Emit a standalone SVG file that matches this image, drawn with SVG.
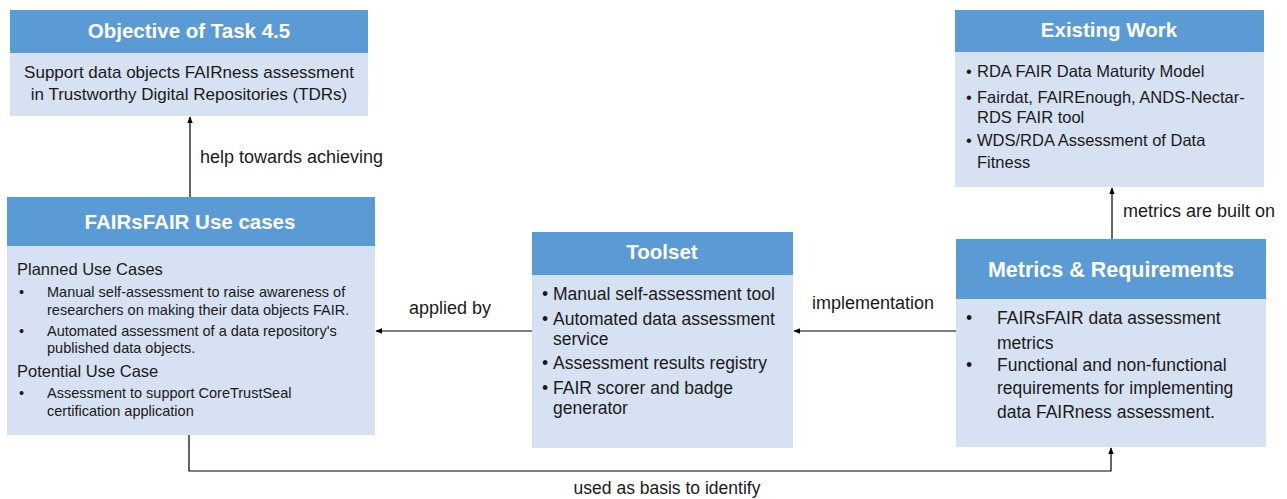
<svg xmlns="http://www.w3.org/2000/svg" width="1287" height="499" viewBox="0 0 1287 499">
<style>
.hd{fill:#5B9BD5}
.bd{fill:#D6E1F1}
text{font-family:"Liberation Sans",Arial,sans-serif;fill:#1a1a1a}
.ht{font-weight:bold;font-size:20.5px;fill:#fff;text-anchor:middle}
.t{font-size:16.5px}
.o{font-size:17px}
.m{font-size:17.5px}
.s{font-size:14.5px}
.h2{font-size:16.5px}
.l{font-size:18px}
.c{fill:none;stroke:#000;stroke-width:1.2}
</style>
<defs>
<marker id="ah" viewBox="0 0 10 10" refX="9" refY="5" markerWidth="7" markerHeight="7" orient="auto" markerUnits="userSpaceOnUse">
<path d="M0,1 L10,5 L0,9 z" fill="#000"/>
</marker>
</defs>
<rect width="1287" height="499" fill="#fff"/>
<g id="objective">
<rect class="hd" x="10" y="10" width="358" height="43"/>
<rect class="bd" x="10" y="53" width="358" height="63"/>
<text class="ht" x="189" y="38">Objective of Task 4.5</text>
<text class="o" x="189" y="78" text-anchor="middle">Support data objects FAIRness assessment</text>
<text class="o" x="189" y="100" text-anchor="middle">in Trustworthy Digital Repositories (TDRs)</text>
</g>
<g id="usecases">
<rect class="hd" x="7" y="197" width="368" height="49"/>
<rect class="bd" x="7" y="246" width="368" height="189"/>
<text class="ht" x="190" y="229">FAIRsFAIR Use cases</text>
<text class="h2" x="17" y="275">Planned Use Cases</text>
<text class="s" x="19" y="297">•</text><text class="s" x="47" y="297">Manual self-assessment to raise awareness of</text>
<text class="s" x="47" y="315">researchers on making their data objects FAIR.</text>
<text class="s" x="19" y="336">•</text><text class="s" x="47" y="336">Automated  assessment of a data repository's</text>
<text class="s" x="47" y="353">published data objects.</text>
<text class="h2" x="17" y="377">Potential Use Case</text>
<text class="s" x="19" y="398">•</text><text class="s" x="47" y="398">Assessment to support  CoreTrustSeal</text>
<text class="s" x="47" y="416">certification application</text>
</g>
<g id="toolset">
<rect class="hd" x="532" y="232" width="261" height="43"/>
<rect class="bd" x="532" y="275" width="261" height="173"/>
<text class="ht" x="662" y="259">Toolset</text>
<text class="m" x="542" y="300">•</text><text class="m" x="553" y="300">Manual self-assessment tool</text>
<text class="m" x="542" y="325">•</text><text class="m" x="553" y="325">Automated data assessment</text>
<text class="m" x="553" y="345">service</text>
<text class="m" x="542" y="369">•</text><text class="m" x="553" y="369">Assessment results registry</text>
<text class="m" x="542" y="394">•</text><text class="m" x="553" y="394">FAIR scorer and badge</text>
<text class="m" x="553" y="414">generator</text>
</g>
<g id="existing">
<rect class="hd" x="955" y="10" width="309" height="42"/>
<rect class="bd" x="955" y="52" width="309" height="135"/>
<text class="ht" x="1109" y="37">Existing Work</text>
<text class="t" x="966" y="77">•</text><text class="t" x="977" y="77">RDA FAIR Data Maturity Model</text>
<text class="t" x="966" y="103">•</text><text class="t" x="977" y="103">Fairdat, FAIREnough, ANDS-Nectar-</text>
<text class="t" x="977" y="123">RDS FAIR tool</text>
<text class="t" x="966" y="146">•</text><text class="t" x="977" y="146">WDS/RDA Assessment of Data</text>
<text class="t" x="977" y="168">Fitness</text>
</g>
<g id="metrics">
<rect class="hd" x="956" y="239" width="310" height="60"/>
<rect class="bd" x="956" y="299" width="310" height="148"/>
<text class="ht" x="1111" y="277" style="font-size:21.5px">Metrics &amp; Requirements</text>
<text class="m" x="966" y="324">•</text><text class="m" x="997" y="324">FAIRsFAIR data assessment</text>
<text class="m" x="997" y="349">metrics</text>
<text class="m" x="966" y="371">•</text><text class="m" x="997" y="371">Functional and non-functional</text>
<text class="m" x="997" y="394">requirements for implementing</text>
<text class="m" x="997" y="418">data FAIRness assessment.</text>
</g>
<g id="connectors">
<path class="c" d="M190,197 V117" marker-end="url(#ah)"/>
<text class="l" x="200" y="163">help towards achieving</text>
<path class="c" d="M1112,239 V188" marker-end="url(#ah)"/>
<text class="l" x="1123" y="217">metrics are built on</text>
<path class="c" d="M956,331 H794" marker-end="url(#ah)"/>
<text class="l" x="812" y="309">implementation</text>
<path class="c" d="M532,331 H376" marker-end="url(#ah)"/>
<text class="l" x="409" y="314">applied by</text>
<path class="c" d="M189,435 V471 H1111 V448" marker-end="url(#ah)"/>
<text class="l" x="667" y="494" text-anchor="middle" style="font-size:17.5px">used as basis to identify</text>
</g>
</svg>
